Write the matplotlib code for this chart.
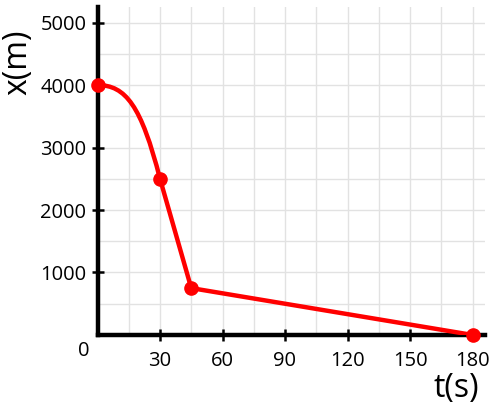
import matplotlib.pyplot as plt
from matplotlib.path import Path
from matplotlib.patches import PathPatch

plt.rcParams['font.family'] = ['Open Sans', 'DejaVu Sans']

# motion data: time (s) and position (m)
t_pts = [0, 30, 45, 180]
x_pts = [4000, 2500, 750, 0]

x_ticks = [30, 60, 90, 120, 150, 180]
y_ticks = [1000, 2000, 3000, 4000, 5000]

fig = plt.figure(figsize=(5.0, 4.12), dpi=100)
ax = fig.add_axes([0.195, 0.187, 0.775, 0.796])

red = '#ff0000'

# first segment is a smooth curve (starts flat, ends steep)
t0, t1 = t_pts[0], t_pts[1]
x0, x1 = x_pts[0], x_pts[1]
dt = t1 - t0
ctrl1 = (t0 + 0.45 * dt, x0)
ctrl2 = (t1 - 0.3 * dt, x1 + 0.78 * (x0 - x1))
curve = Path([(t0, x0), ctrl1, ctrl2, (t1, x1)],
             [Path.MOVETO, Path.CURVE4, Path.CURVE4, Path.CURVE4])
ax.add_patch(PathPatch(curve, facecolor='none', edgecolor=red, lw=3.2,
                       capstyle='round', zorder=4))

# straight segments afterwards
ax.plot(t_pts[1:], x_pts[1:], color=red, lw=3.2, solid_capstyle='round',
        solid_joinstyle='round', zorder=4)
ax.plot(t_pts, x_pts, 'o', color=red, ms=9.5, zorder=5, clip_on=False)

ax.set_xlim(0, 186)
ax.set_ylim(0, 5250)
ax.set_xticks(x_ticks)
ax.set_yticks(y_ticks)
ax.set_xticks(range(15, 186, 15), minor=True)
ax.set_yticks(range(500, 5251, 500), minor=True)
ax.grid(which='both', color='#e2e2e2', lw=1)
ax.set_axisbelow(True)
ax.tick_params(which='minor', length=0)
ax.tick_params(which='major', direction='inout', length=9, width=1.8,
               labelsize=14.5)
ax.tick_params(axis='y', pad=3.5)
ax.tick_params(axis='x', pad=7)

for side in ('top', 'right'):
    ax.spines[side].set_visible(False)
for side in ('left', 'bottom'):
    ax.spines[side].set_linewidth(3.2)

ax.text(-0.035, -0.05, '0', transform=ax.transAxes, fontsize=14.5,
        ha='center', va='center')
fig.text(0.036, 0.85, 'x(m)', rotation=90, fontsize=23,
         ha='center', va='center')
fig.text(0.912, 0.058, 't(s)', fontsize=23, ha='center', va='center')

fig.savefig('out.png', dpi=100)
